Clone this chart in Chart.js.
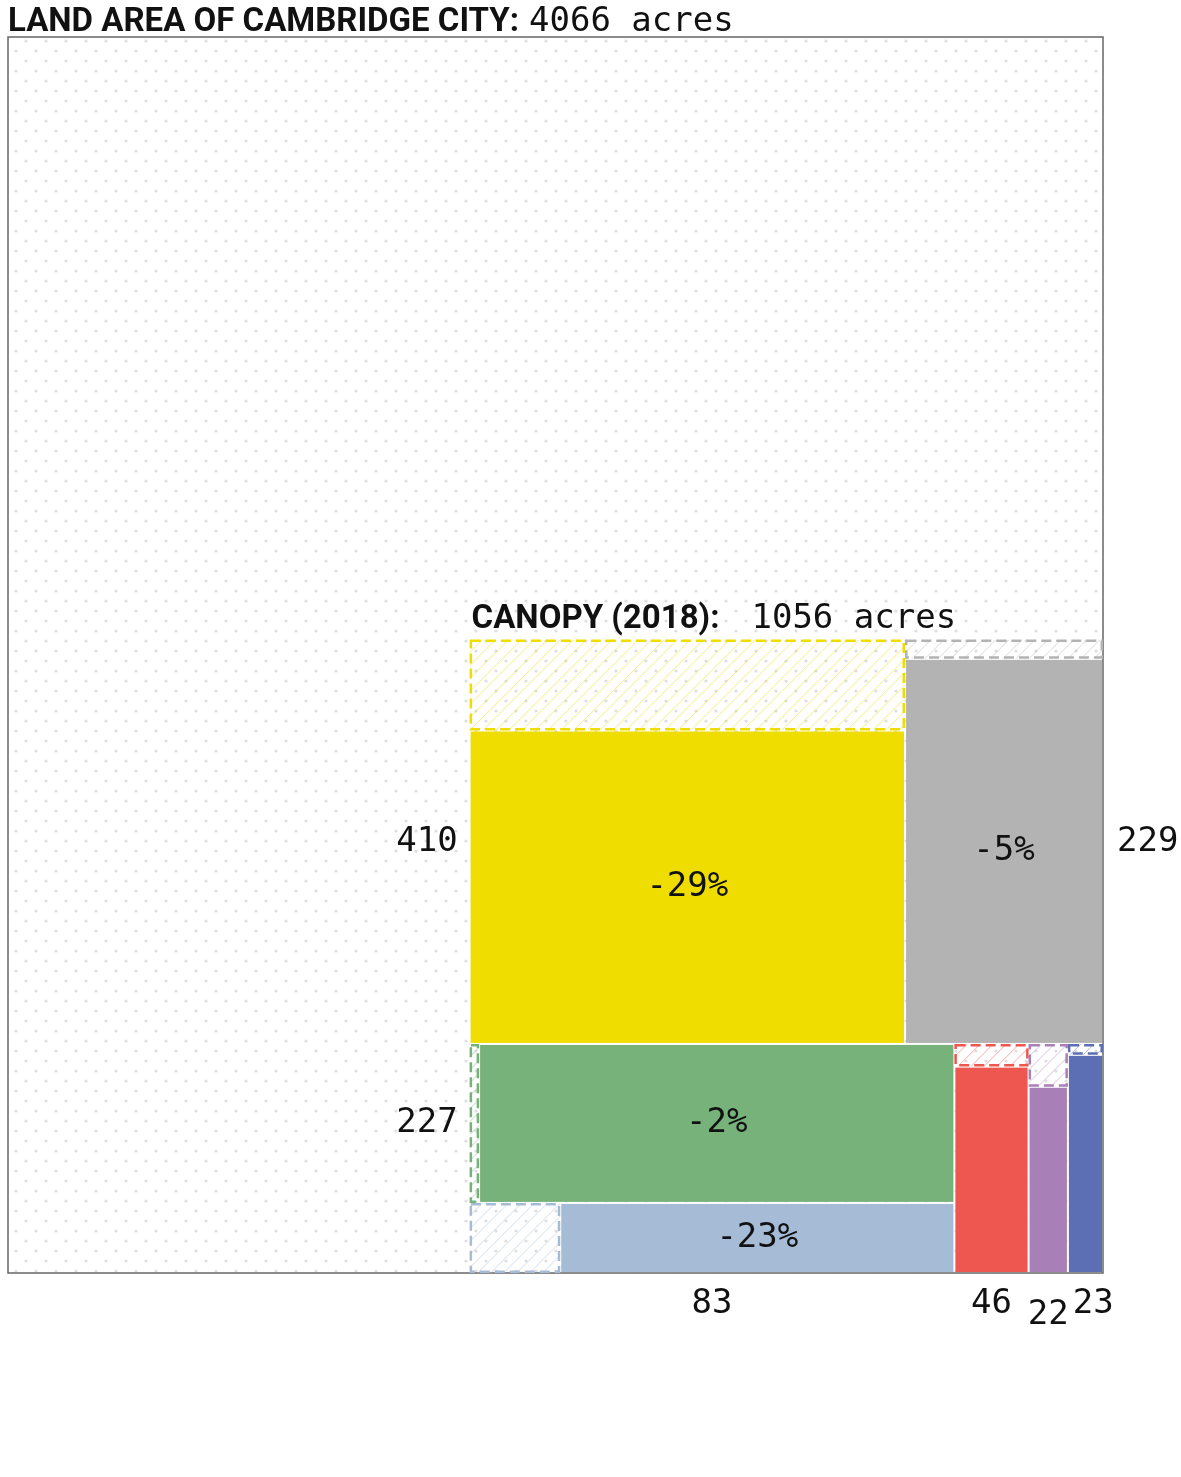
<!DOCTYPE html>
<html>
<head>
<meta charset="utf-8">
<script src="https://cdn.jsdelivr.net/npm/chart.js@4.4.0/dist/chart.umd.min.js"></script>
<style>
  body { margin: 0; background: #fff; }
  canvas { display: block; }
</style>
</head>
<body>
<canvas id="canopyChart" width="1181" height="1477"></canvas>
<script>
// data
const landAcres = 4066;
const canopyAcres = 1056;
const categories = ['yellow', 'grey', 'green', 'lightblue', 'red', 'purple', 'blue'];
const acres2018 = [410, 229, 227, 83, 46, 22, 23];
const changePct = [-29, -5, -2, -23, -11, -23, -5];
const colors = ['#f0dd00', '#b3b3b3', '#76b279', '#a5bbd6', '#ee5750', '#a97fb8', '#5c6fb4'];
// canopy block: rows, each row split in columns of stacked categories
const canopyRows = [[[0], [1]], [[2, 3], [4], [5], [6]]];

const pad = { left: 8, right: 78, top: 37, bottom: 204 };
const plotW = 1181 - pad.left - pad.right;
const plotH = 1477 - pad.top - pad.bottom;
const landW = Math.sqrt(landAcres * plotW / plotH);
const landH = landAcres / landW;

const boldFont = 'Roboto, "Liberation Sans", sans-serif';
const monoFont = '"DejaVu Sans Mono", "Liberation Mono", monospace';

const sum = arr => arr.reduce((a, b) => a + b, 0);
const lossAcres = acres2018.map((v, i) => v * Math.abs(changePct[i]) / 100);
const fullAcres = acres2018.map((v, i) => v + lossAcres[i]);

// lay out the canopy cells (in acre units, y going up)
function layoutCells() {
  const total = sum(fullAcres);
  const side = Math.sqrt(total);
  const cells = [];
  let rowTop = side;
  canopyRows.forEach(row => {
    const rowSum = sum(row.flat().map(i => fullAcres[i]));
    const rowH = side * rowSum / total;
    let colX = landW - side;
    row.forEach(col => {
      const colSum = sum(col.map(i => fullAcres[i]));
      const colW = side * colSum / rowSum;
      let top = rowTop;
      col.forEach(i => {
        const h = rowH * fullAcres[i] / colSum;
        cells[i] = { x0: colX, x1: colX + colW, y0: top - h, y1: top, lossSide: col.length > 1 ? 'left' : 'top' };
        top -= h;
      });
      colX += colW;
    });
    rowTop -= rowH;
  });
  return { cells, side };
}

function hatchRect(ctx, r, color) {
  ctx.save();
  ctx.beginPath();
  ctx.rect(r.x, r.y, r.w, r.h);
  ctx.clip();
  ctx.strokeStyle = color;
  ctx.globalAlpha = 0.5;
  ctx.lineWidth = 1;
  ctx.beginPath();
  for (let k = -r.h; k < r.w + r.h; k += 13) {
    ctx.moveTo(r.x + k, r.y + r.h);
    ctx.lineTo(r.x + k + r.h, r.y);
  }
  ctx.stroke();
  ctx.restore();
  ctx.save();
  ctx.strokeStyle = color;
  ctx.lineWidth = 2.5;
  ctx.setLineDash([10, 5]);
  ctx.strokeRect(r.x + 1.25, r.y + 1.25, r.w - 2.5, r.h - 2.5);
  ctx.restore();
}

function boldText(ctx, txt, x, y) {
  ctx.save();
  ctx.font = 'bold 33px ' + boldFont;
  ctx.fillText(txt, x, y);
  const w = ctx.measureText(txt).width;
  ctx.restore();
  return w;
}

const treemapPlugin = {
  id: 'treemap',
  beforeDraw(chart) {
    const ctx = chart.ctx;
    ctx.save();
    ctx.fillStyle = '#fff';
    ctx.fillRect(0, 0, chart.width, chart.height);
    ctx.restore();
  },
  afterDraw(chart) {
    const ctx = chart.ctx;
    const xs = chart.scales.x, ys = chart.scales.y;
    const px = v => xs.getPixelForValue(v);
    const py = v => ys.getPixelForValue(v);
    const L = px(0), R = px(landW), T = py(landH), B = py(0);

    // dotted land background
    ctx.save();
    ctx.fillStyle = '#dedede';
    let row = 0;
    for (let y = T + 4; y < B; y += 10, row++) {
      for (let x = L + (row % 2 ? 8 : 18); x < R; x += 20) {
        ctx.beginPath();
        ctx.arc(x, y, 1.6, 0, Math.PI * 2);
        ctx.fill();
      }
    }
    ctx.restore();

    ctx.save();
    ctx.strokeStyle = '#666';
    ctx.lineWidth = 1.5;
    ctx.strokeRect(L, T, R - L, B - T);
    ctx.restore();

    const { cells, side } = layoutCells();
    const cL = px(landW - side), cT = py(side);

    cells.forEach((c, i) => {
      const x0 = px(c.x0), x1 = px(c.x1), y0 = py(c.y1), y1 = py(c.y0);
      const w = x1 - x0, h = y1 - y0;
      const frac = lossAcres[i] / fullAcres[i];
      let loss, solid;
      if (c.lossSide === 'left') {
        const lw = w * frac;
        loss = { x: x0, y: y0, w: lw, h };
        solid = { x: x0 + lw, y: y0, w: w - lw, h };
      } else {
        const lh = h * frac;
        loss = { x: x0, y: y0, w, h: lh };
        solid = { x: x0, y: y0 + lh, w, h: h - lh };
      }
      ctx.fillStyle = colors[i];
      ctx.fillRect(solid.x + 1, solid.y + 1, solid.w - 2, solid.h - 2);
      hatchRect(ctx, loss, colors[i]);
      c.px = { x0, x1, y0, y1, solid };
    });

    // labels
    ctx.save();
    ctx.fillStyle = '#111';
    ctx.font = '34px ' + monoFont;
    const below = [];
    cells.forEach((c, i) => {
      const p = c.px;
      const txt = String(acres2018[i]);
      if (c.y0 < 1e-6) {
        below.push({ i, x: (p.x0 + p.x1) / 2, w: ctx.measureText(txt).width, txt, dy: 0 });
      } else if (Math.abs(c.x0 - (landW - side)) < 1e-6) {
        ctx.textAlign = 'right';
        ctx.textBaseline = 'middle';
        ctx.fillText(txt, p.x0 - 12, (p.y0 + p.y1) / 2);
      } else {
        ctx.textAlign = 'left';
        ctx.textBaseline = 'middle';
        ctx.fillText(txt, p.x1 + 14, (p.y0 + p.y1) / 2);
      }
      const pct = changePct[i] + '%';
      const s = p.solid;
      if (ctx.measureText(pct).width + 10 < s.w && s.h > 40) {
        ctx.textAlign = 'center';
        ctx.textBaseline = 'middle';
        ctx.fillText(pct, s.x + s.w / 2, s.y + s.h / 2);
      }
    });
    // stagger bottom labels that would collide
    below.sort((a, b) => a.x - b.x);
    below.forEach((lb, k) => {
      const next = below[k + 1];
      if (next && lb.x + lb.w / 2 > next.x - next.w / 2 - 4) {
        lb.dy = 11;
        next.x = Math.max(next.x, lb.x + lb.w / 2 + 4 + next.w / 2);
      }
    });
    below.forEach(lb => {
      ctx.textAlign = 'center';
      ctx.textBaseline = 'middle';
      ctx.fillText(lb.txt, lb.x, B + 31 + lb.dy);
    });

    // titles
    ctx.textAlign = 'left';
    ctx.textBaseline = 'alphabetic';
    const w1 = boldText(ctx, 'LAND AREA OF CAMBRIDGE CITY:', L, T - 6);
    const w2 = boldText(ctx, 'CANOPY (2018):', cL + 2, cT - 12);
    ctx.font = '34px ' + monoFont;
    ctx.fillText(landAcres + ' acres', L + w1 + 10, T - 6);
    ctx.fillText(canopyAcres + ' acres', cL + 2 + w2 + 32, cT - 12);
    ctx.restore();
  }
};

new Chart(document.getElementById('canopyChart'), {
  type: 'scatter',
  data: { labels: categories, datasets: [] },
  options: {
    responsive: false,
    animation: false,
    layout: { padding: pad },
    plugins: { legend: { display: false }, tooltip: { enabled: false } },
    scales: {
      x: { type: 'linear', min: 0, max: landW, display: false },
      y: { type: 'linear', min: 0, max: landH, display: false }
    }
  },
  plugins: [treemapPlugin]
});
</script>
</body>
</html>
